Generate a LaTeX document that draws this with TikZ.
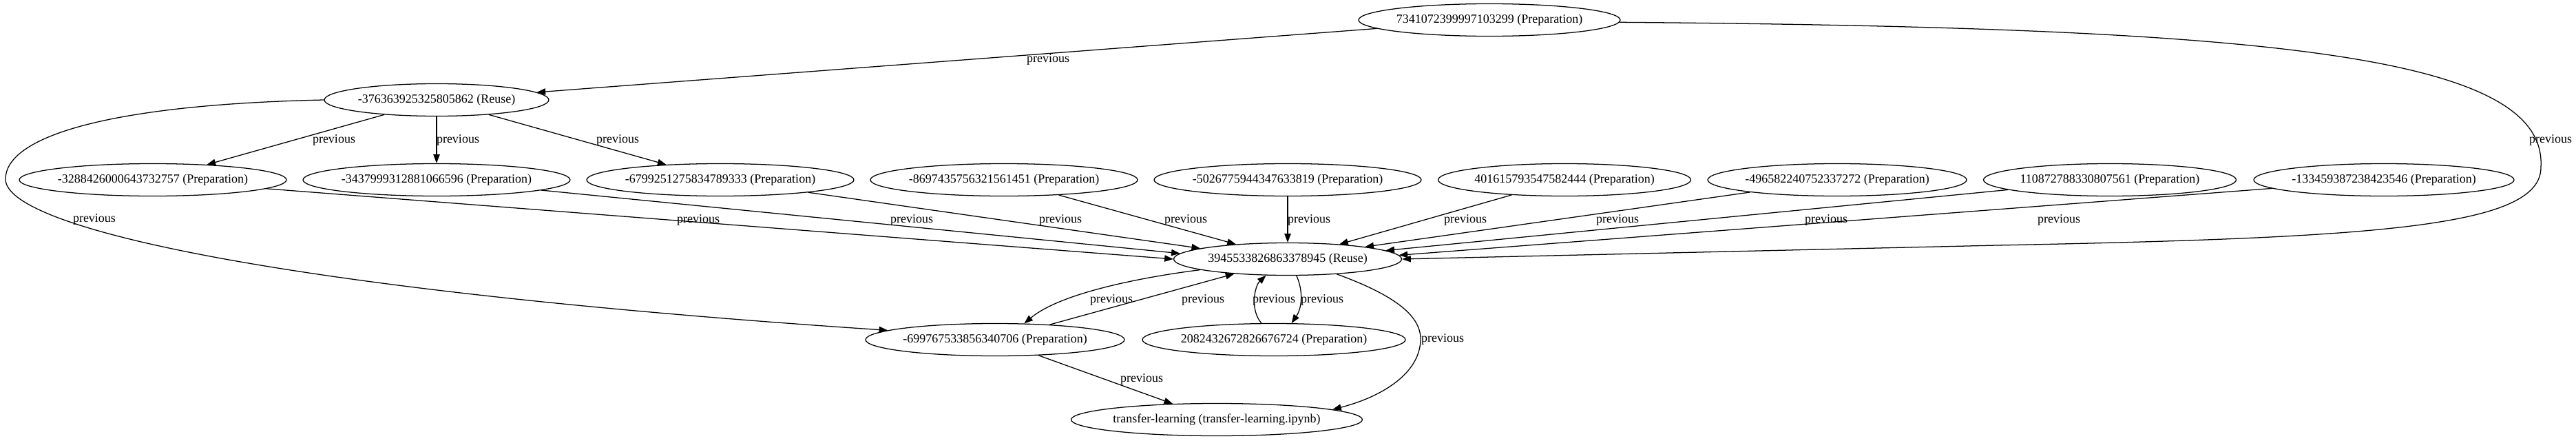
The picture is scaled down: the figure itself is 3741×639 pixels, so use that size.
\documentclass[tikz,border=0pt]{standalone}
\usepackage{fontspec}
\setmainfont{Liberation Serif}
\usetikzlibrary{shapes.geometric,arrows.meta}
\begin{document}
\begin{tikzpicture}[x=0.75pt,y=-0.75pt,
  every node/.style={font=\fontsize{13.5}{16}\selectfont},
  nd/.style={ellipse,draw,line width=0.95pt,inner xsep=-8pt,inner ysep=0pt,minimum height=35.25pt,minimum width=#1*0.75pt},
  lbl/.style={inner sep=0pt},
  arr/.style={draw,line width=0.95pt,-{Triangle[length=9.5pt,width=7pt]}}
]
\useasboundingbox (0,0) rectangle (3741,639);
% nodes
\node[nd=380] (T) at (2163,29) {7341072399997103299 (Preparation)};
\node[nd=326] (R1) at (634,145) {-376363925325805862 (Reuse)};
\node[nd=388] (a) at (222,261) {-3288426000643732757 (Preparation)};
\node[nd=388] (b) at (634,261) {-3437999312881066596 (Preparation)};
\node[nd=388] (c) at (1046,261) {-6799251275834789333 (Preparation)};
\node[nd=388] (d) at (1458,261) {-8697435756321561451 (Preparation)};
\node[nd=388] (e) at (1870,261) {-5026775944347633819 (Preparation)};
\node[nd=367] (f) at (2272,261) {401615793547582444 (Preparation)};
\node[nd=376] (g) at (2668,261) {-496582240752337272 (Preparation)};
\node[nd=367] (h) at (3064,261) {110872788330807561 (Preparation)};
\node[nd=378] (i) at (3462,261) {-133459387238423546 (Preparation)};
\node[nd=331] (C) at (1870,376) {3945533826863378945 (Reuse)};
\node[nd=376] (m) at (1445,493) {-699767533856340706 (Preparation)};
\node[nd=382] (n) at (1850,493) {2082432672826676724 (Preparation)};
\node[nd=423] (TL) at (1767,609) {transfer-learning (transfer-learning.ipynb)};
% edges
\draw[arr] (T) -- (R1);
\draw[arr] (T.-1) .. controls (3300,40) and (3700,80) .. (3690,243) .. controls (3690,330) and (3450,345) .. (2900,356) -- (C.0);
\draw[arr] (R1.west) .. controls (150,152) and (8,200) .. (8,260) .. controls (8,330) and (400,420) .. (m.175);
\draw[arr] (R1) -- (a);
\draw[arr] (R1) -- (b);
\draw[arr] (R1) -- (c);
\draw[arr] (a) -- (C.180);
\draw[arr] (b) -- (C.177);
\draw[arr] (c) -- (C.173);
\draw[arr] (d) -- (C.164);
\draw[arr] (e) -- (C);
\draw[arr] (f) -- (C.16);
\draw[arr] (g) -- (C.9);
\draw[arr] (h) -- (C.5);
\draw[arr] (i) -- (C.2);
\draw[arr] (C.187) .. controls (1660,402) and (1540,425) .. (m.29);
\draw[arr] (m) -- (C);
\draw[arr] (n.127) .. controls (1815,450) and (1822,415) .. (C.217);
\draw[arr] (C.298) .. controls (1892,420) and (1892,445) .. (n.43);
\draw[arr] (C.343) .. controls (2030,430) and (2063,460) .. (2063,492) .. controls (2063,540) and (2010,575) .. (TL.5);
\draw[arr] (m) -- (TL);
% labels
\node[lbl] (l1) at (1522,86) {previous};
\node[lbl] (l2) at (3704,203) {previous};
\node[lbl] (l3) at (485,203) {previous};
\node[lbl] (l4) at (665,203) {previous};
\node[lbl] (l5) at (897,203) {previous};
\node[lbl] (l6) at (137,318) {previous};
\node[lbl] (l7) at (1014,319) {previous};
\node[lbl] (l8) at (1324,319) {previous};
\node[lbl] (l9) at (1540,319) {previous};
\node[lbl] (l10) at (1722,319) {previous};
\node[lbl] (l11) at (1901,319) {previous};
\node[lbl] (l12) at (2128,319) {previous};
\node[lbl] (l13) at (2349,319) {previous};
\node[lbl] (l14) at (2652,319) {previous};
\node[lbl] (l15) at (2990,319) {previous};
\node[lbl] (l16) at (1614,435) {previous};
\node[lbl] (l17) at (1747,435) {previous};
\node[lbl] (l18) at (1850,435) {previous};
\node[lbl] (l19) at (1920,435) {previous};
\node[lbl] (l20) at (2095,492) {previous};
\node[lbl] (l21) at (1658,550) {previous};
\end{tikzpicture}
\end{document}
